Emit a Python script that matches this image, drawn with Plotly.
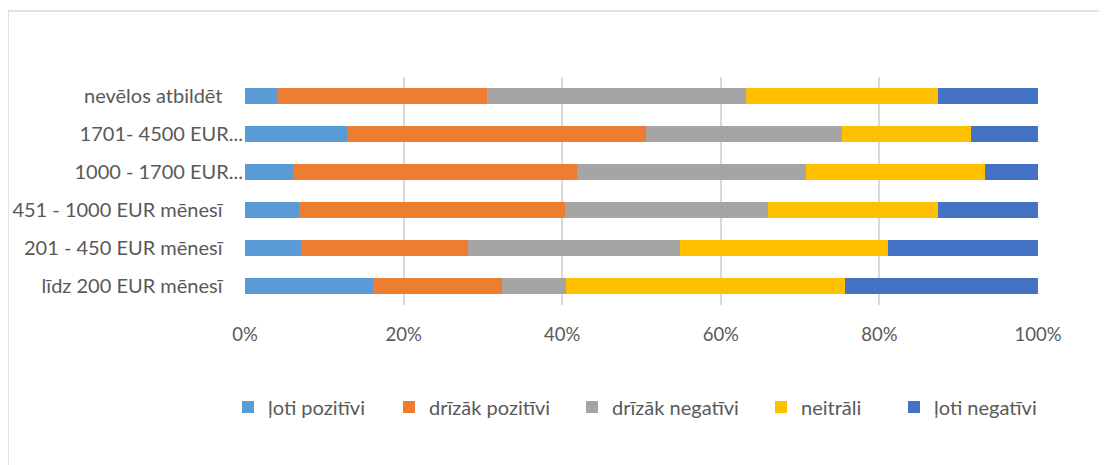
import plotly.graph_objects as go

categories = [
    "līdz 200 EUR mēnesī",
    "201 - 450 EUR mēnesī",
    "451 - 1000 EUR mēnesī",
    "1000 - 1700 EUR...",
    "1701- 4500 EUR...",
    "nevēlos atbildēt",
]

series_names = ["ļoti pozitīvi", "drīzāk pozitīvi", "drīzāk negatīvi", "neitrāli", "ļoti negatīvi"]

loti_pozitivi = [16.1, 7.1, 6.8, 6.1, 12.8, 4.0]
drizak_pozitivi = [16.3, 21.0, 33.6, 35.8, 37.8, 26.5]
drizak_negativi = [8.1, 26.7, 25.5, 28.9, 24.7, 32.7]
neitrali = [35.2, 26.3, 21.5, 22.5, 16.2, 24.2]
loti_negativi = [24.3, 18.9, 12.6, 6.7, 8.5, 12.6]

x_ticks = [0, 20, 40, 60, 80, 100]
x_tick_labels = ["0%", "20%", "40%", "60%", "80%", "100%"]

colors = ["#5B9BD5", "#ED7D31", "#A5A5A5", "#FFC000", "#4472C4"]
series = [loti_pozitivi, drizak_pozitivi, drizak_negativi, neitrali, loti_negativi]

FONT = "Lato, 'Open Sans', sans-serif"
GRAY = "#595959"

# page body adds an 8px offset; compensate and keep figure inside the window
OFF = 8
W, H = 1107 - OFF, 465 - OFF
PL, PR, PT, PB = 245, 1038, 77, 305  # plot area in screen px
L, R, T, B = PL - OFF, W - (PR - OFF), PT - OFF, H - (PB - OFF)
pw, ph = W - L - R, H - T - B

def px_x(x):
    return (x - OFF - L) / pw

def px_y(y):
    return (H - B - (y - OFF)) / ph

# truncated labels overhang closer to the axis (as in the source); pad the others
y_tick_text = [c if c.endswith("...") else c + "\u00a0" * 4 for c in categories]

# legend text start positions (target screen px)
legend_text_x = [268, 429, 612, 801, 934]
legend_keys = ["legend", "legend2", "legend3", "legend4", "legend5"]

fig = go.Figure()
for name, vals, col, lk in zip(series_names, series, colors, legend_keys):
    fig.add_trace(go.Bar(
        y=categories, x=vals, name=name, orientation="h",
        marker=dict(color=col, line=dict(width=0)),
        legend=lk,
    ))

legend_layouts = {}
for lk, tx in zip(legend_keys, legend_text_x):
    legend_layouts[lk] = dict(
        orientation="h", x=px_x(tx - 40), xanchor="left",
        y=px_y(407), yanchor="middle",
        font=dict(family=FONT, size=20, color=GRAY),
        itemwidth=30, bgcolor="rgba(0,0,0,0)", borderwidth=0,
    )

border = dict(color="#D9D9D9", width=1.5)
fig.update_layout(
    width=W, height=H,
    barmode="stack", barnorm="percent", bargap=0.57,
    margin=dict(l=L, r=R, t=T, b=B, autoexpand=False),
    paper_bgcolor="white", plot_bgcolor="white",
    font=dict(family=FONT, size=20, color=GRAY),
    showlegend=True,
    xaxis=dict(
        range=[0, 100], tickvals=x_ticks, ticktext=x_tick_labels,
        showgrid=True, gridcolor="#D9D9D9", gridwidth=1.5,
        zeroline=False, showline=False, ticks="",
        ticklabelstandoff=16, fixedrange=True,
        tickfont=dict(family=FONT, size=18.5, color=GRAY),
    ),
    yaxis=dict(
        categoryorder="array", categoryarray=categories,
        tickvals=categories, ticktext=y_tick_text,
        showgrid=False, zeroline=False, showline=False, ticks="",
        ticklabelstandoff=1,
        tickfont=dict(family=FONT, size=20, color=GRAY),
    ),
    shapes=[
        dict(type="line", xref="paper", yref="paper",
             x0=px_x(8), x1=px_x(1107), y0=px_y(11), y1=px_y(11),
             line=border, layer="below"),
        dict(type="line", xref="paper", yref="paper",
             x0=px_x(8), x1=px_x(8), y0=px_y(11), y1=px_y(465),
             line=border, layer="below"),
    ],
    **legend_layouts,
)

fig.write_html(
    "out.html",
    post_script="document.documentElement.style.overflow='hidden';document.body.style.overflow='hidden';",
)
